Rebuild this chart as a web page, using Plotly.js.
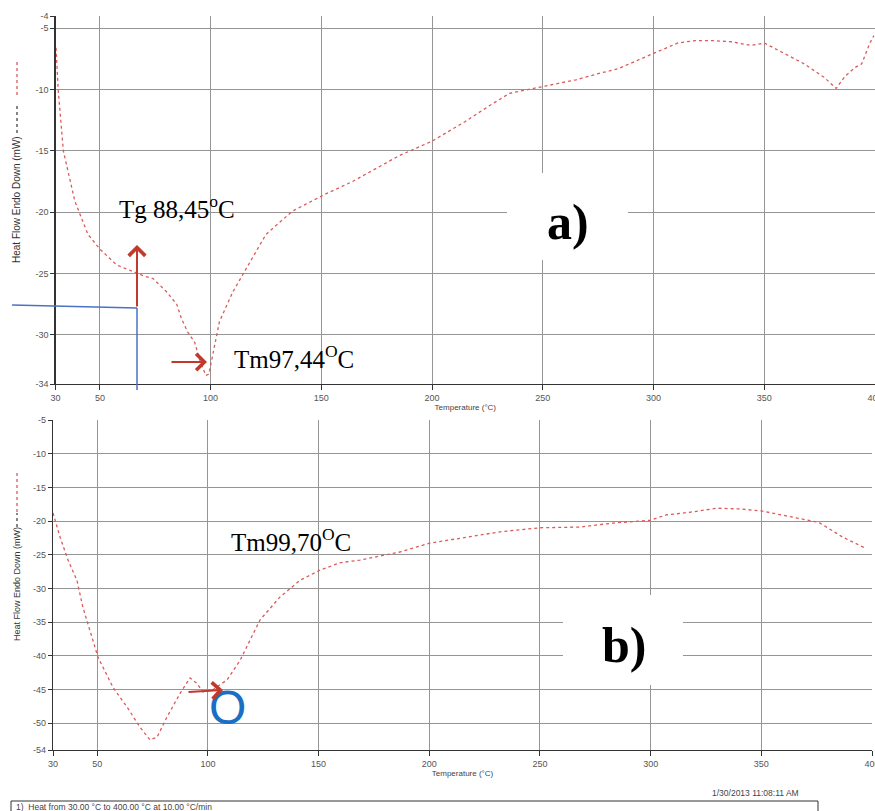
<!DOCTYPE html>
<html>
<head>
<meta charset="utf-8">
<script src="https://cdn.plot.ly/plotly-3.0.1.min.js"></script>
<style>html,body{margin:0;padding:0;background:#fff;}#chart{width:875px;height:811px;}</style>
</head>
<body>
<div id="chart"></div>
<script>
// ---- Data ----
// Panel a)
var tempA = [30.2, 31.2, 33.5, 38.7, 44.6, 50, 57.6, 64.9, 70, 74, 78.5, 80.2, 84.7, 86.9, 89.6, 92.8, 95, 96.5, 97.8, 99.2, 100.5, 104, 110, 116, 125, 137, 152, 164, 171, 185, 200, 215, 226, 235, 250, 265, 275, 284, 300, 311, 319, 326, 335, 344, 350, 359, 368, 377, 382.5, 386.5, 391, 394, 397.7, 399.5];
var heatA = [-6.6, -10.1, -15.0, -19.1, -21.8, -23.0, -24.3, -24.8, -25.2, -25.4, -26.2, -26.5, -27.5, -28.7, -29.75, -30.6, -32.0, -32.7, -33.3, -33.2, -32.0, -28.9, -26.5, -24.6, -21.8, -19.9, -18.5, -17.5, -16.8, -15.4, -14.2, -12.6, -11.3, -10.3, -9.75, -9.2, -8.7, -8.3, -7.05, -6.2, -6.0, -6.0, -6.1, -6.4, -6.2, -7.05, -7.9, -9.0, -9.9, -8.9, -8.2, -7.9, -6.2, -5.6];
// Panel b)
var tempB = [30, 33.2, 36.8, 40.8, 43.5, 46.7, 50.3, 57.1, 63.4, 69.3, 73.8, 77, 81.5, 87.4, 91.9, 95, 97.8, 102, 108.6, 114.5, 123.5, 132.5, 141.6, 150.6, 159.6, 168.7, 186.7, 200, 232, 250, 268, 283, 299.6, 307, 317.7, 330, 340, 350, 364, 376, 386.8, 396.8];
var heatB = [-18.8, -22.4, -25.8, -28.8, -32.8, -36.2, -40.2, -44.7, -47.6, -50.6, -52.5, -52.1, -49.1, -45.6, -43.3, -44.1, -45.4, -45.1, -43.6, -40.7, -34.7, -31.3, -28.8, -27.3, -26.2, -25.8, -24.6, -23.3, -21.6, -21.0, -20.9, -20.3, -19.9, -19.1, -18.7, -18.1, -18.2, -18.5, -19.4, -20.2, -22.4, -24.0];
// Ticks
var xTicks = [30, 50, 100, 150, 200, 250, 300, 350, 400];
var yTicksA = [-34, -30, -25, -20, -15, -10, -5, -4];
var yTicksB = [-54, -50, -45, -40, -35, -30, -25, -20, -15, -10, -5];

// ---- Layout helpers (pixel -> paper) ----
var W = 875, H = 811;
function px(x){ return x / W; }
function py(y){ return 1 - y / H; }

var curveColor = '#dc5a5a';
var arrowColor = '#c0392b';
var tickFont = {family: 'Arial, Liberation Sans, sans-serif', size: 9, color: '#555'};
var serif = 'Liberation Serif, Times New Roman, serif';

var traces = [
  {x: tempA, y: heatA, xaxis: 'x', yaxis: 'y', mode: 'lines', line: {color: curveColor, width: 1.3, dash: 'dot'}, hoverinfo: 'skip', showlegend: false},
  {x: tempB, y: heatB, xaxis: 'x2', yaxis: 'y2', mode: 'lines', line: {color: curveColor, width: 1.3, dash: 'dot'}, hoverinfo: 'skip', showlegend: false}
];

function xAxis(domain, anchor){
  return {domain: domain, anchor: anchor, range: [30, 400], tickmode: 'array', tickvals: xTicks,
    ticktext: xTicks.map(String), ticks: 'outside', ticklen: 5, tickcolor: '#333',
    ticklabeloverflow: 'allow',
    showline: true, linecolor: '#333', linewidth: 1.2, showgrid: true, gridcolor: '#959595', gridwidth: 1,
    zeroline: false, tickfont: tickFont,
    title: {text: 'Temperature (°C)', font: {family: 'Arial, Liberation Sans, sans-serif', size: 8, color: '#444'}, standoff: 2}};
}
function yAxis(domain, anchor, range, ticks){
  return {domain: domain, anchor: anchor, range: range, tickmode: 'array', tickvals: ticks,
    ticktext: ticks.map(String), ticks: 'outside', ticklen: 4, tickcolor: '#333',
    showline: true, linecolor: '#333', linewidth: 1.2, showgrid: true, gridcolor: '#959595', gridwidth: 1,
    zeroline: false, tickfont: tickFont};
}

var annotations = [
  // y axis titles
  {xref: 'paper', yref: 'paper', x: px(17), y: py(200), text: 'Heat Flow Endo Down (mW)', textangle: -90, showarrow: false,
   font: {family: 'Arial, Liberation Sans, sans-serif', size: 10, color: '#333'}, xanchor: 'center', yanchor: 'middle'},
  {xref: 'paper', yref: 'paper', x: px(17), y: py(584), text: 'Heat Flow Endo Down (mW)', textangle: -90, showarrow: false,
   font: {family: 'Arial, Liberation Sans, sans-serif', size: 9, color: '#333'}, xanchor: 'center', yanchor: 'middle'},
  // text labels
  {xref: 'paper', yref: 'paper', x: px(117), y: py(207), text: 'Tg 88,45<sup>o</sup>C', showarrow: false,
   font: {family: serif, size: 25, color: '#000'}, xanchor: 'left', yanchor: 'middle'},
  {xref: 'paper', yref: 'paper', x: px(232), y: py(357), text: 'Tm97,44<sup>O</sup>C', showarrow: false,
   font: {family: serif, size: 25, color: '#000'}, xanchor: 'left', yanchor: 'middle'},
  {xref: 'paper', yref: 'paper', x: px(229), y: py(540), text: 'Tm99,70<sup>O</sup>C', showarrow: false,
   font: {family: serif, size: 25, color: '#000'}, xanchor: 'left', yanchor: 'middle'},
  {xref: 'paper', yref: 'paper', x: px(545), y: py(222), text: '<b>a)</b>', showarrow: false,
   font: {family: serif, size: 50, color: '#000'}, xanchor: 'left', yanchor: 'middle'},
  {xref: 'paper', yref: 'paper', x: px(600), y: py(645), text: '<b>b)</b>', showarrow: false,
   font: {family: serif, size: 50, color: '#000'}, xanchor: 'left', yanchor: 'middle'},
  {xref: 'paper', yref: 'paper', x: px(207), y: py(707), text: 'O', showarrow: false,
   font: {family: 'Liberation Sans, Arial, sans-serif', size: 48, color: '#1a6fc4'}, xanchor: 'left', yanchor: 'middle'},
  // arrows
  {xref: 'paper', yref: 'paper', x: px(137), y: py(245), ax: 0, ay: 63, text: '', showarrow: true,
   arrowhead: 4, arrowsize: 1.6, arrowwidth: 2, arrowcolor: arrowColor},
  {xref: 'paper', yref: 'paper', x: px(207), y: py(362), ax: -37, ay: 0, text: '', showarrow: true,
   arrowhead: 4, arrowsize: 1.6, arrowwidth: 2, arrowcolor: arrowColor},
  {xref: 'paper', yref: 'paper', x: px(223), y: py(690), ax: -36, ay: 2, text: '', showarrow: true,
   arrowhead: 4, arrowsize: 1.6, arrowwidth: 2, arrowcolor: arrowColor},
  // footer
  {xref: 'paper', yref: 'paper', x: px(755), y: py(793), text: '1/30/2013 11:08:11 AM', showarrow: false,
   font: {family: 'Arial, Liberation Sans, sans-serif', size: 8.5, color: '#444'}, xanchor: 'center', yanchor: 'middle'},
  {xref: 'paper', yref: 'paper', x: px(14), y: py(807), text: '1)  Heat from 30.00 °C to 400.00 °C at 10.00 °C/min', showarrow: false,
   font: {family: 'Arial, Liberation Sans, sans-serif', size: 8.5, color: '#444'}, xanchor: 'left', yanchor: 'middle'}
];

var shapes = [
  // white boxes behind panel labels
  {type: 'rect', xref: 'paper', yref: 'paper', x0: px(507), x1: px(628), y0: py(260), y1: py(173), fillcolor: '#fff', line: {width: 0}, layer: 'above'},
  {type: 'rect', xref: 'paper', yref: 'paper', x0: px(563), x1: px(683), y0: py(685), y1: py(595), fillcolor: '#fff', line: {width: 0}, layer: 'above'},
  // blue guide lines (panel a)
  {type: 'line', xref: 'paper', yref: 'paper', x0: px(12), y0: py(305), x1: px(137), y1: py(308), line: {color: '#4a72c4', width: 1.5}, layer: 'above'},
  {type: 'line', xref: 'paper', yref: 'paper', x0: px(137), y0: py(308), x1: px(137), y1: py(390), line: {color: '#4a72c4', width: 1.5}, layer: 'above'},
  // legend swatches beside y titles
  {type: 'line', xref: 'paper', yref: 'paper', x0: px(17), x1: px(17), y0: py(95), y1: py(60), line: {color: curveColor, width: 1.3, dash: 'dot'}},
  {type: 'line', xref: 'paper', yref: 'paper', x0: px(17), x1: px(17), y0: py(133), y1: py(105), line: {color: '#444', width: 1.3, dash: 'dot'}},
  {type: 'line', xref: 'paper', yref: 'paper', x0: px(17), x1: px(17), y0: py(512), y1: py(470), line: {color: curveColor, width: 1.3, dash: 'dot'}},
  {type: 'line', xref: 'paper', yref: 'paper', x0: px(17), x1: px(17), y0: py(527), y1: py(513), line: {color: '#444', width: 1.3, dash: 'dot'}},
  // footer box
  {type: 'rect', xref: 'paper', yref: 'paper', x0: px(11), x1: px(818), y0: py(820), y1: py(801), fillcolor: 'rgba(0,0,0,0)', line: {color: '#333', width: 1}}
];

var layout = {
  width: W, height: H, autosize: false,
  margin: {l: 0, r: 0, t: 0, b: 0, pad: 0},
  paper_bgcolor: '#fff', plot_bgcolor: '#fff',
  showlegend: false,
  xaxis: xAxis([px(55.6), 1], 'y'),
  yaxis: yAxis([py(384), py(16)], 'x', [-34, -4], yTicksA),
  xaxis2: xAxis([px(53), px(872)], 'y2'),
  yaxis2: yAxis([py(750), py(420)], 'x2', [-54, -5], yTicksB),
  annotations: annotations,
  shapes: shapes
};

Plotly.newPlot('chart', traces, layout, {displayModeBar: false, staticPlot: true});
</script>
</body>
</html>
